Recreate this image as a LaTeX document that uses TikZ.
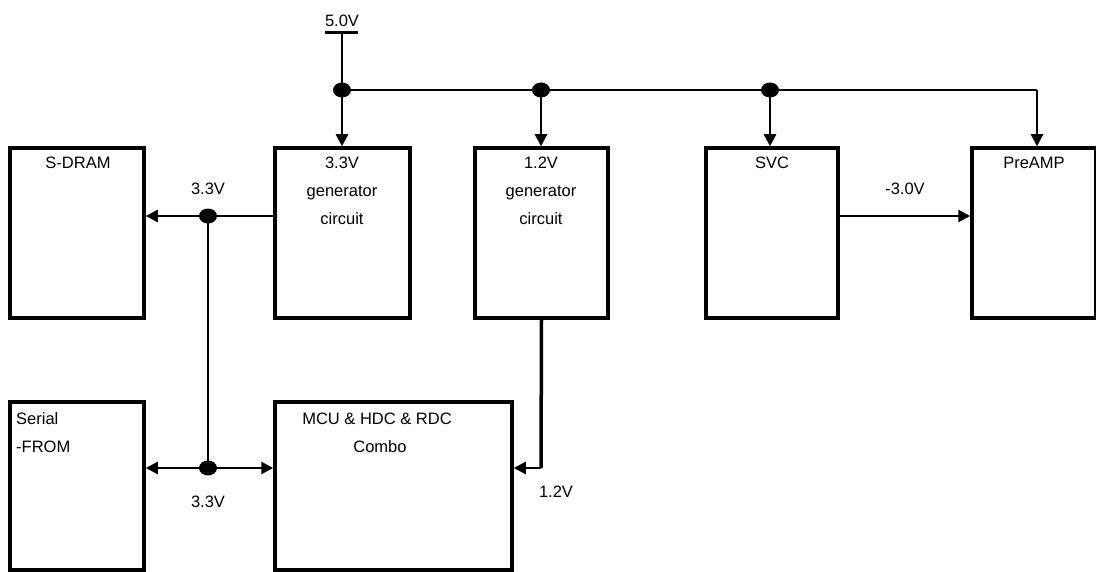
\documentclass[tikz,border=0pt]{standalone}
\usepackage{fontspec}
\setmainfont{Liberation Sans}
\usetikzlibrary{arrows.meta,positioning}
\begin{document}
\begin{tikzpicture}[x=1pt,y=-1pt,
  box/.style={draw,line width=3.5pt,rectangle,inner sep=0pt},
  txt/.style={font=\fontsize{16.5}{28}\selectfont,align=center,inner sep=0pt},
  wire/.style={line width=2.5pt},
  tip/.style={-{Triangle[length=12pt,width=12pt]}},
  dot/.style={fill=black}]
\useasboundingbox (0,0) rectangle (1096,572);
% boxes
\node[box,minimum width=134pt,minimum height=170pt] (sdram) at (77,233) {};
\node[box,minimum width=135pt,minimum height=170pt] (gen33) at (342.5,233) {};
\node[box,minimum width=133pt,minimum height=170pt] (gen12) at (541.5,233) {};
\node[box,minimum width=132pt,minimum height=170pt] (svc) at (772,233) {};
\node[box,minimum width=124pt,minimum height=170pt] (pre) at (1034,233) {};
\node[box,minimum width=134pt,minimum height=168pt] (sfrom) at (77,486) {};
\node[box,minimum width=237pt,minimum height=168pt] (mcu) at (393.5,486) {};
% texts (anchor = baseline of last line)
\node[txt,anchor=base] at (78,169) {S-DRAM};
\node[txt,anchor=base] at (342,225) {3.3V\\generator\\circuit};
\node[txt,anchor=base] at (541,225) {1.2V\\generator\\circuit};
\node[txt,anchor=base] at (772,169) {SVC};
\node[txt,anchor=base] at (1034,169) {PreAMP};
\node[txt,anchor=base west,align=left] at (16,452) {Serial\\-FROM};
\node[txt,anchor=base] at (377,452) {MCU \& HDC \& RDC\\\hspace*{6pt}Combo};
% supply
\coordinate (v5) at (342,33);
\draw[line width=3pt] (325,33) -- (358,33);
\node[txt,anchor=base] (l5) at (342,27) {5.0V};
\coordinate (j1) at (342,90);
\coordinate (j2) at (541,90);
\coordinate (j3) at (770,90);
\coordinate (jc) at (1037,90);
\draw[wire] (v5) -- (j1);
\draw[wire] (j1) -- (jc);
\draw[wire,tip] (j1) -- (j1 |- gen33.north);
\draw[wire,tip] (j2) -- (j2 |- gen12.north);
\draw[wire,tip] (j3) -- (j3 |- svc.north);
\draw[wire,tip] (jc) -- (jc |- pre.north);
% 3.3V distribution
\coordinate (j4) at (208,216);
\coordinate (j5) at (208,468);
\draw[wire] (gen33.west |- j4) -- (j4);
\draw[wire,tip] (j4) -- (sdram.east |- j4);
\draw[wire] (j4) -- (j5);
\draw[wire,tip] (j5) -- (sfrom.east |- j5);
\draw[wire,tip] (j5) -- (mcu.west |- j5);
\node[txt,anchor=base] at (208,195) {3.3V};
\node[txt,anchor=base] at (208,507) {3.3V};
% 1.2V
\coordinate (c12) at (541,468);
\draw[line width=3.5pt] (gen12.south) -- (c12);
\draw[wire,tip] (c12) -- (mcu.east |- c12);
\node[txt,anchor=base] at (556,497) {1.2V};
% -3.0V
\draw[wire,tip] (svc.east |- j4) -- (pre.west |- j4);
\node[txt,anchor=base] at (905,195) {-3.0V};
% dots
\foreach \p in {j1,j2,j3,j4,j5} \fill[dot] (\p) ellipse (9pt and 7.5pt);
\end{tikzpicture}
\end{document}
